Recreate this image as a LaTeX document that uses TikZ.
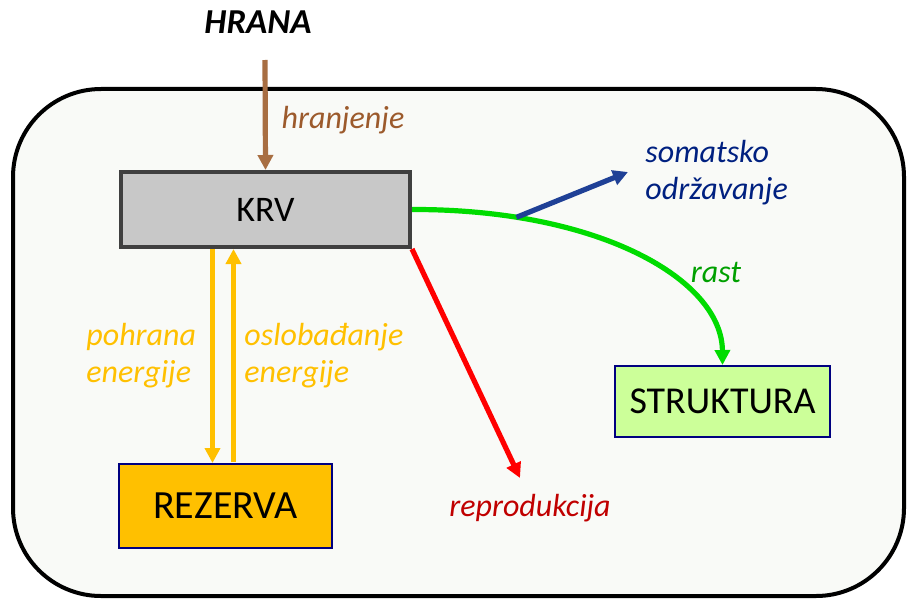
\documentclass[tikz,border=0pt]{standalone}
\usepackage{fontspec}
\setmainfont{Carlito}
\usepackage{xcolor}
\usetikzlibrary{arrows.meta,positioning,calc}
\definecolor{cellfill}{RGB}{249,250,247}
\definecolor{foodline}{RGB}{168,110,66}
\definecolor{foodtext}{RGB}{156,90,44}
\definecolor{krvfill}{RGB}{200,200,200}
\definecolor{krvline}{RGB}{64,64,64}
\definecolor{fatcol}{RGB}{255,192,0}
\definecolor{navyline}{RGB}{0,0,128}
\definecolor{strfill}{RGB}{204,255,153}
\definecolor{reprline}{RGB}{255,0,0}
\definecolor{reprtext}{RGB}{192,0,0}
\definecolor{growline}{RGB}{0,220,0}
\definecolor{growtext}{RGB}{0,160,0}
\definecolor{somaline}{RGB}{31,64,150}
\definecolor{somatext}{RGB}{0,32,128}

\begin{document}
\begin{tikzpicture}[x=0.5pt,y=-0.5pt,
  lbl/.style={inner sep=0pt,font=\itshape\fontsize{16}{18.5}\selectfont},
  box/.style={draw,inner sep=0pt,line width=1pt},
  flow/.style={line width=2.6pt,-{Triangle[width=7.5pt,length=7.5pt]}}]
  \useasboundingbox (0,0) rectangle (908,599);
  \draw[line width=2pt,fill=cellfill,rounded corners=44pt] (13,89) rectangle (904,596);

  \node[font=\bfseries\itshape\fontsize{17.5}{20}\selectfont] (hrana) at (258,22) {HRANA};
  \node[box,draw=krvline,line width=2pt,fill=krvfill,minimum width=144.5pt,minimum height=37.5pt,
        font=\fontsize{18}{20}\selectfont] (krv) at (265.5,209.5) {KRV};
  \node[box,draw=navyline,fill=fatcol,minimum width=106.5pt,minimum height=42pt,
        font=\fontsize{20}{22}\selectfont] (rez) at (225.5,506) {REZERVA};
  \node[box,draw=navyline,fill=strfill,minimum width=107.5pt,minimum height=35.5pt,
        font=\fontsize{19}{21}\selectfont] (str) at (722.5,401.5) {STRUKTURA};

  \coordinate (food) at (265,60);
  \coordinate (reprtip) at (520,478);
  \coordinate (somatip) at (628,172);

  % hranjenje
  \draw[flow,foodline] (food) -- (krv.north);
  \node[lbl,text=foodtext] (feed) at (343,120) {hranjenje};

  % pohrana / oslobadjanje
  \draw[flow,fatcol] ($(krv.south)+(-53,0)$) -- ($(rez.north)+(-13,0)$);
  \draw[flow,fatcol] ($(rez.north)+(8,-1)$) -- ($(krv.south)+(-32,0)$);
  \node[lbl,text=fatcol,align=left,anchor=west] (store) at (86,356) {pohrana\\energije};
  \node[lbl,text=fatcol,align=left,anchor=west] (release) at (244,356) {oslobađanje\\energije};

  % reprodukcija
  \draw[flow,reprline] (krv.south east) -- (reprtip);
  \node[lbl,text=reprtext] (repr) at (530,508) {reprodukcija};

  % rast i somatsko odrzavanje
  \draw[flow,growline] (krv.east) .. controls (600,209) and (722,280) .. (str.north)
    coordinate[pos=0.2] (split);
  \node[lbl,text=growtext] (grow) at (716,272) {rast};
  \draw[flow,somaline] (split) -- (somatip);
  \node[lbl,text=somatext,align=left,anchor=west] (soma) at (645,173) {somatsko\\održavanje};
\end{tikzpicture}
\end{document}
